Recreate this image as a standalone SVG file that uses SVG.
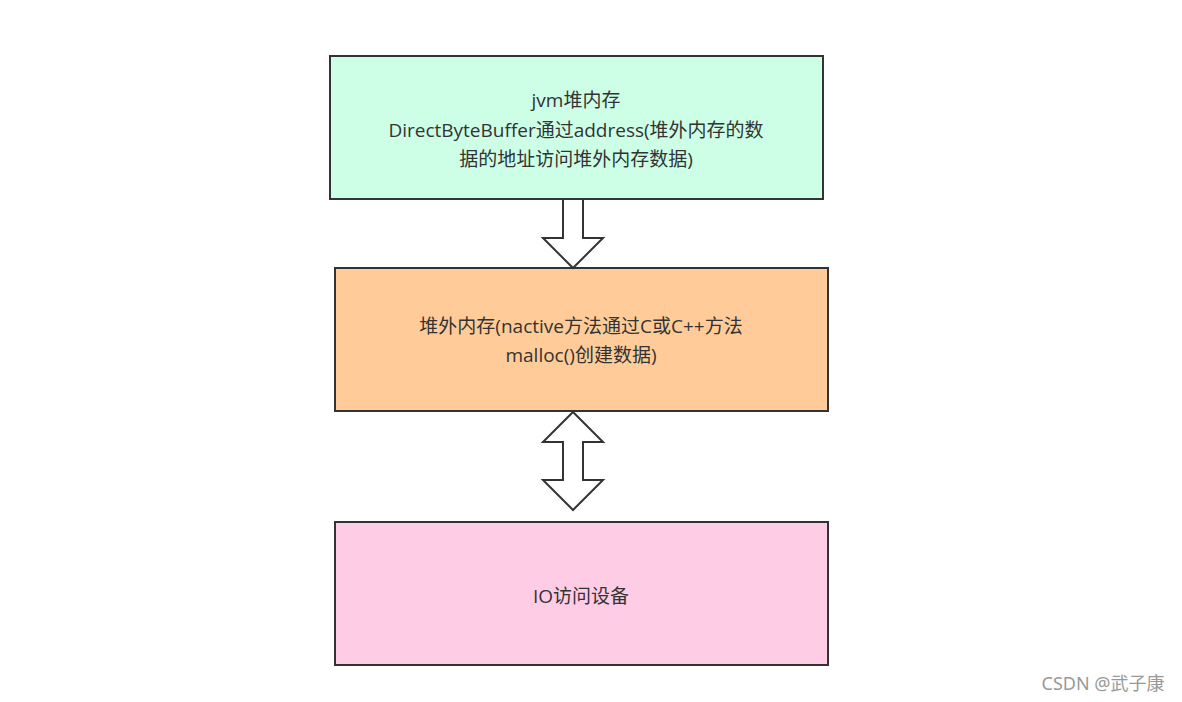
<svg xmlns="http://www.w3.org/2000/svg" width="1182" height="702" viewBox="0 0 1182 702">
<style>
.box{stroke:#333;stroke-width:2}
.t{font-family:"Open Sans","Noto Sans CJK SC",sans-serif;font-size:19px;fill:#333;text-anchor:middle}
.arr{fill:#fff;stroke:#333;stroke-width:2;stroke-linejoin:miter}
</style>
<rect width="1182" height="702" fill="#fff"/>
<g id="node1"><rect class="box" x="330" y="56" width="493" height="143" fill="#ccffe6"/>
<text class="t" x="576" y="107">jvm堆内存</text>
<text class="t" x="576" y="137">DirectByteBuffer通过address(堆外内存的数</text>
<text class="t" x="576" y="166">据的地址访问堆外内存数据)</text></g>
<g id="node2"><rect class="box" x="335" y="268" width="493" height="143" fill="#ffcc99"/>
<text class="t" x="581" y="333">堆外内存(nactive方法通过C或C++方法</text>
<text class="t" x="581" y="362">malloc()创建数据)</text></g>
<g id="node3"><rect class="box" x="335" y="522" width="493" height="143" fill="#ffcce6"/>
<text class="t" x="581" y="603">IO访问设备</text></g>
<g id="connectors">
<path class="arr" d="M563,199 L583,199 L583,238 L603,238 L573,268 L543,238 L563,238 Z"/>
<path class="arr" d="M573,412 L603,442 L583,442 L583,480 L603,480 L573,510 L543,480 L563,480 L563,442 L543,442 Z"/>
</g>
<text x="1103" y="690" style="font-family:'Noto Sans','Noto Sans CJK SC',sans-serif;font-size:18px;fill:#999;text-anchor:middle">CSDN @武子康</text>
</svg>
